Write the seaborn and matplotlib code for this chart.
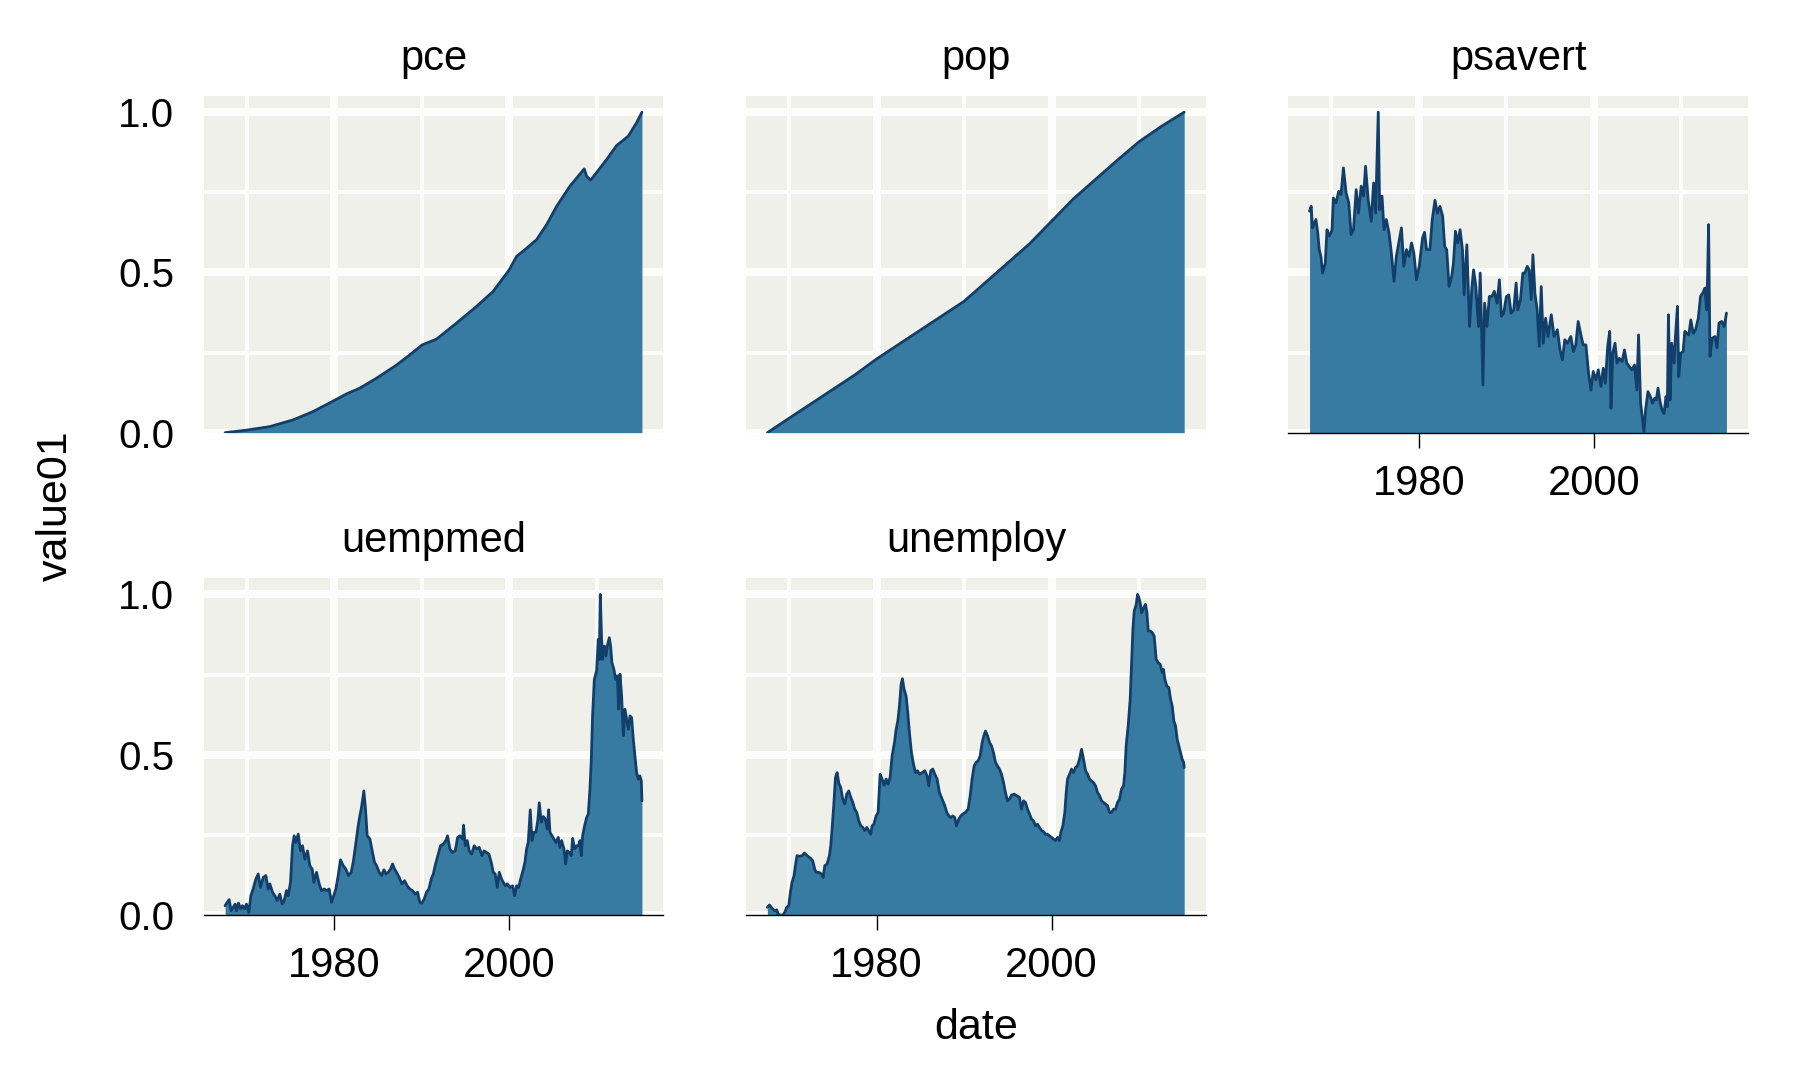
import matplotlib
matplotlib.use("Agg")
import matplotlib.pyplot as plt
import pandas as pd
import seaborn as sns
from matplotlib.ticker import FixedLocator

variables = ["pce", "pop", "psavert", "uempmed", "unemploy"]

pce_date = [1967.52, 1970.0, 1972.63, 1975.30, 1977.58, 1980.10, 1981.39, 1982.91, 1984.82,
            1987.10, 1988.63, 1990.04, 1991.68, 1993.96, 1996.25, 1998.15, 1999.98, 2000.82,
            2001.77, 2003.10, 2004.25, 2005.39, 2006.91, 2008.55, 2008.82, 2009.28, 2009.77,
            2011.10, 2012.25, 2013.58, 2014.53, 2015.14]
pce_value01 = [0.0, 0.008, 0.019, 0.040, 0.066, 0.102, 0.121, 0.139, 0.170,
               0.211, 0.243, 0.274, 0.292, 0.342, 0.394, 0.441, 0.508, 0.550,
               0.571, 0.602, 0.649, 0.706, 0.769, 0.823, 0.800, 0.788, 0.805,
               0.852, 0.896, 0.925, 0.967, 1.0]

pop_date = [1967.52, 1970.0, 1972.5, 1975.0, 1977.5, 1980.0, 1982.5, 1985.0, 1987.5, 1990.0,
            1992.5, 1995.0, 1997.5, 2000.0, 2002.5, 2005.0, 2007.5, 2010.0, 2012.5, 2015.14]
pop_value01 = [0.0, 0.045, 0.09, 0.135, 0.18, 0.23, 0.275, 0.32, 0.365, 0.41,
               0.47, 0.53, 0.59, 0.66, 0.73, 0.79, 0.85, 0.908, 0.955, 1.0]

psavert_date = [
    1967.51, 1967.70, 1967.85, 1968.24, 1968.43, 1968.62, 1968.81, 1969.00, 1969.31, 1969.50,
    1969.77, 1970.08, 1970.23, 1970.54, 1970.84, 1971.11, 1971.38, 1971.69, 1971.99, 1972.26,
    1972.53, 1972.84, 1973.10, 1973.41, 1973.68, 1973.91, 1974.21, 1974.56, 1974.83, 1975.06,
    1975.36, 1975.52, 1975.79, 1976.02, 1976.28, 1976.59, 1976.86, 1977.16, 1977.43, 1977.70,
    1978.01, 1978.28, 1978.58, 1978.89, 1979.16, 1979.43, 1979.73, 1980.04, 1980.42, 1980.65,
    1980.88, 1981.26, 1981.53, 1981.84, 1982.11, 1982.41, 1982.72, 1982.95, 1983.18, 1983.45,
    1983.75, 1983.95, 1984.18, 1984.44, 1984.71, 1984.98, 1985.17, 1985.48, 1985.79, 1986.05,
    1986.25, 1986.51, 1986.82, 1987.01, 1987.32, 1987.51, 1987.78, 1988.05, 1988.35, 1988.62,
    1988.93, 1989.20, 1989.43, 1989.69, 1990.00, 1990.27, 1990.54, 1990.84, 1991.11, 1991.30,
    1991.61, 1991.88, 1992.11, 1992.38, 1992.61, 1992.84, 1993.03, 1993.26, 1993.52, 1993.75,
    1993.98, 1994.21, 1994.48, 1994.75, 1995.13, 1995.44, 1995.82, 1996.13, 1996.40, 1996.67,
    1996.97, 1997.36, 1997.66, 1997.93, 1998.20, 1998.51, 1998.77, 1999.08, 1999.39, 1999.66,
    1999.92, 2000.23, 2000.50, 2000.80, 2001.07, 2001.30, 2001.57, 2001.80, 2001.95, 2002.15,
    2002.41, 2002.64, 2002.91, 2003.22, 2003.49, 2003.75, 2004.06, 2004.33, 2004.64, 2004.90,
    2005.10, 2005.33, 2005.52, 2005.71, 2005.90, 2006.17, 2006.44, 2006.70, 2006.93, 2007.13,
    2007.32, 2007.55, 2007.78, 2008.01, 2008.24, 2008.39, 2008.51, 2008.70, 2008.89, 2009.16,
    2009.31, 2009.54, 2009.69, 2009.92, 2010.19, 2010.38, 2010.61, 2010.84, 2011.07, 2011.34,
    2011.61, 2011.92, 2012.18, 2012.41, 2012.68, 2012.87, 2012.99, 2013.10, 2013.26, 2013.52,
    2013.83, 2014.06, 2014.29, 2014.60, 2014.87, 2015.05, 2015.14]
psavert_value01 = [
    0.691, 0.706, 0.639, 0.665, 0.628, 0.571, 0.550, 0.498, 0.529, 0.633,
    0.613, 0.633, 0.732, 0.717, 0.753, 0.743, 0.826, 0.748, 0.717, 0.618,
    0.633, 0.758, 0.685, 0.769, 0.738, 0.831, 0.727, 0.659, 0.779, 0.685,
    1.0, 0.696, 0.738, 0.633, 0.665, 0.623, 0.560, 0.472, 0.550, 0.592,
    0.639, 0.519, 0.571, 0.550, 0.592, 0.560, 0.477, 0.519, 0.607, 0.625,
    0.571, 0.571, 0.665, 0.725, 0.685, 0.706, 0.675, 0.581, 0.571, 0.456,
    0.488, 0.529, 0.628, 0.592, 0.633, 0.571, 0.430, 0.586, 0.331, 0.451,
    0.508, 0.456, 0.331, 0.498, 0.149, 0.404, 0.331, 0.425, 0.425, 0.441,
    0.404, 0.477, 0.363, 0.373, 0.425, 0.430, 0.373, 0.383, 0.467, 0.383,
    0.415, 0.498, 0.498, 0.519, 0.508, 0.415, 0.555, 0.435, 0.383, 0.269,
    0.456, 0.279, 0.357, 0.300, 0.368, 0.300, 0.321, 0.258, 0.227, 0.290,
    0.279, 0.300, 0.253, 0.274, 0.347, 0.305, 0.274, 0.274, 0.185, 0.133,
    0.191, 0.165, 0.196, 0.144, 0.201, 0.154, 0.269, 0.316, 0.076, 0.248,
    0.279, 0.217, 0.232, 0.222, 0.258, 0.217, 0.206, 0.196, 0.211, 0.133,
    0.305, 0.092, 0.050, 0.0, 0.071, 0.128, 0.113, 0.092, 0.107, 0.102,
    0.139, 0.097, 0.071, 0.060, 0.113, 0.081, 0.368, 0.102, 0.279, 0.217,
    0.300, 0.394, 0.175, 0.248, 0.253, 0.316, 0.310, 0.305, 0.352, 0.310,
    0.321, 0.357, 0.425, 0.435, 0.451, 0.383, 0.493, 0.649, 0.238, 0.295,
    0.300, 0.264, 0.342, 0.347, 0.331, 0.357, 0.373]

uempmed_date = [
    1967.52, 1967.75, 1967.98, 1968.21, 1968.44, 1968.67, 1968.82, 1969.05, 1969.28, 1969.50,
    1969.73, 1969.96, 1970.23, 1970.46, 1970.72, 1971.03, 1971.30, 1971.56, 1971.87, 1972.17,
    1972.44, 1972.63, 1972.93, 1973.20, 1973.47, 1973.77, 1974.04, 1974.27, 1974.53, 1974.72,
    1974.99, 1975.22, 1975.41, 1975.60, 1975.87, 1976.13, 1976.36, 1976.63, 1976.93, 1977.20,
    1977.47, 1977.66, 1977.96, 1978.27, 1978.53, 1978.84, 1979.10, 1979.41, 1979.68, 1979.87,
    1980.17, 1980.44, 1980.70, 1981.01, 1981.31, 1981.62, 1981.92, 1982.15, 1982.42, 1982.72,
    1982.91, 1983.10, 1983.37, 1983.56, 1983.75, 1984.06, 1984.32, 1984.59, 1984.82, 1985.12,
    1985.39, 1985.66, 1985.89, 1986.15, 1986.42, 1986.65, 1986.88, 1987.10, 1987.41, 1987.71,
    1988.02, 1988.32, 1988.63, 1988.93, 1989.24, 1989.50, 1989.77, 1990.00, 1990.27, 1990.53,
    1990.80, 1991.07, 1991.30, 1991.56, 1991.87, 1992.13, 1992.44, 1992.74, 1992.93, 1993.20,
    1993.50, 1993.81, 1994.08, 1994.34, 1994.65, 1994.76, 1994.95, 1995.18, 1995.41, 1995.68,
    1995.98, 1996.25, 1996.55, 1996.86, 1997.09, 1997.39, 1997.66, 1997.92, 1998.15, 1998.38,
    1998.61, 1998.84, 1999.10, 1999.30, 1999.52, 1999.75, 2000.06, 2000.36, 2000.59, 2000.82,
    2001.05, 2001.28, 2001.50, 2001.77, 2001.96, 2002.15, 2002.38, 2002.57, 2002.80, 2003.03,
    2003.26, 2003.41, 2003.64, 2003.87, 2004.10, 2004.32, 2004.48, 2004.63, 2004.86, 2005.09,
    2005.31, 2005.58, 2005.77, 2005.96, 2006.23, 2006.42, 2006.61, 2006.84, 2007.07, 2007.22,
    2007.45, 2007.68, 2007.90, 2008.06, 2008.21, 2008.36, 2008.59, 2008.82, 2009.01, 2009.20,
    2009.35, 2009.50, 2009.70, 2009.96, 2010.15, 2010.27, 2010.38, 2010.53, 2010.65, 2010.84,
    2011.03, 2011.18, 2011.41, 2011.56, 2011.71, 2011.94, 2012.13, 2012.32, 2012.48, 2012.63,
    2012.82, 2013.01, 2013.20, 2013.39, 2013.58, 2013.77, 2013.96, 2014.15, 2014.34, 2014.53,
    2014.72, 2014.91, 2015.07, 2015.14]
uempmed_value01 = [
    0.029, 0.039, 0.048, 0.013, 0.024, 0.034, 0.013, 0.037, 0.019, 0.029,
    0.019, 0.034, 0.008, 0.060, 0.081, 0.112, 0.128, 0.086, 0.117, 0.123,
    0.081, 0.097, 0.071, 0.060, 0.045, 0.065, 0.034, 0.045, 0.076, 0.060,
    0.102, 0.216, 0.247, 0.226, 0.252, 0.200, 0.216, 0.174, 0.200, 0.154,
    0.143, 0.102, 0.133, 0.097, 0.076, 0.081, 0.076, 0.081, 0.039, 0.055,
    0.081, 0.123, 0.172, 0.154, 0.143, 0.123, 0.133, 0.164, 0.216, 0.278,
    0.309, 0.335, 0.387, 0.330, 0.247, 0.237, 0.200, 0.164, 0.154, 0.133,
    0.123, 0.141, 0.128, 0.133, 0.143, 0.159, 0.143, 0.133, 0.117, 0.097,
    0.107, 0.091, 0.081, 0.076, 0.065, 0.071, 0.039, 0.037, 0.050, 0.071,
    0.081, 0.112, 0.128, 0.159, 0.190, 0.216, 0.221, 0.232, 0.247, 0.206,
    0.195, 0.200, 0.242, 0.247, 0.237, 0.280, 0.216, 0.232, 0.200, 0.190,
    0.216, 0.206, 0.211, 0.185, 0.200, 0.195, 0.190, 0.164, 0.133, 0.128,
    0.086, 0.133, 0.112, 0.102, 0.091, 0.097, 0.086, 0.091, 0.060, 0.091,
    0.086, 0.112, 0.133, 0.164, 0.206, 0.226, 0.328, 0.232, 0.258, 0.258,
    0.299, 0.350, 0.289, 0.307, 0.299, 0.268, 0.328, 0.258, 0.247, 0.237,
    0.226, 0.242, 0.211, 0.232, 0.206, 0.159, 0.200, 0.195, 0.185, 0.239,
    0.206, 0.216, 0.216, 0.232, 0.185, 0.247, 0.278, 0.304, 0.315, 0.393,
    0.481, 0.621, 0.735, 0.761, 0.860, 0.797, 1.0, 0.860, 0.797, 0.839,
    0.808, 0.839, 0.865, 0.839, 0.787, 0.766, 0.735, 0.746, 0.642, 0.751,
    0.683, 0.559, 0.642, 0.611, 0.579, 0.621, 0.616, 0.548, 0.496, 0.444,
    0.424, 0.434, 0.418, 0.356]

unemploy_date = [
    1967.52, 1967.75, 1968.06, 1968.36, 1968.59, 1968.74, 1968.97, 1969.28, 1969.50, 1969.73,
    1969.96, 1970.15, 1970.34, 1970.57, 1970.72, 1970.91, 1971.18, 1971.49, 1971.75, 1972.06,
    1972.44, 1972.70, 1972.93, 1973.09, 1973.39, 1973.70, 1973.89, 1974.08, 1974.34, 1974.61,
    1974.76, 1974.91, 1975.10, 1975.30, 1975.49, 1975.68, 1975.90, 1976.13, 1976.36, 1976.59,
    1976.82, 1977.05, 1977.28, 1977.50, 1977.73, 1977.96, 1978.19, 1978.42, 1978.65, 1978.88,
    1979.10, 1979.33, 1979.49, 1979.68, 1979.94, 1980.17, 1980.40, 1980.63, 1980.86, 1981.09,
    1981.31, 1981.54, 1981.77, 1982.04, 1982.23, 1982.42, 1982.61, 1982.80, 1982.95, 1983.14,
    1983.37, 1983.56, 1983.75, 1983.98, 1984.17, 1984.44, 1984.67, 1984.90, 1985.20, 1985.50,
    1985.77, 1985.96, 1986.19, 1986.42, 1986.65, 1986.91, 1987.18, 1987.49, 1987.79, 1988.02,
    1988.25, 1988.48, 1988.70, 1988.93, 1989.12, 1989.39, 1989.62, 1989.85, 1990.15, 1990.46,
    1990.69, 1990.91, 1991.14, 1991.37, 1991.60, 1991.83, 1992.06, 1992.25, 1992.44, 1992.67,
    1992.90, 1993.12, 1993.35, 1993.58, 1993.81, 1994.04, 1994.27, 1994.50, 1994.72, 1994.95,
    1995.18, 1995.41, 1995.71, 1996.02, 1996.32, 1996.55, 1996.78, 1997.01, 1997.24, 1997.47,
    1997.70, 1997.92, 1998.15, 1998.38, 1998.61, 1998.84, 1999.07, 1999.30, 1999.52, 1999.75,
    1999.98, 2000.21, 2000.44, 2000.67, 2000.90, 2001.05, 2001.28, 2001.50, 2001.66, 2001.81,
    2002.04, 2002.27, 2002.50, 2002.72, 2002.95, 2003.18, 2003.41, 2003.64, 2003.87, 2004.10,
    2004.32, 2004.55, 2004.78, 2005.01, 2005.24, 2005.47, 2005.70, 2005.92, 2006.15, 2006.38,
    2006.61, 2006.84, 2007.07, 2007.30, 2007.52, 2007.75, 2007.98, 2008.21, 2008.36, 2008.51,
    2008.74, 2008.97, 2009.12, 2009.28, 2009.43, 2009.66, 2009.81, 2009.96, 2010.11, 2010.27,
    2010.50, 2010.72, 2010.88, 2011.03, 2011.26, 2011.49, 2011.71, 2011.94, 2012.17, 2012.40,
    2012.63, 2012.78, 2012.93, 2013.16, 2013.39, 2013.58, 2013.77, 2013.96, 2014.15, 2014.34,
    2014.53, 2014.72, 2014.91, 2015.07, 2015.14]
unemploy_value01 = [
    0.024, 0.031, 0.021, 0.013, 0.016, 0.003, 0.0, 0.0, 0.008, 0.024,
    0.029, 0.071, 0.102, 0.123, 0.154, 0.185, 0.183, 0.185, 0.193, 0.185,
    0.177, 0.169, 0.143, 0.133, 0.133, 0.128, 0.117, 0.154, 0.159, 0.185,
    0.216, 0.268, 0.341, 0.429, 0.444, 0.411, 0.398, 0.361, 0.346, 0.377,
    0.387, 0.367, 0.351, 0.330, 0.320, 0.294, 0.278, 0.273, 0.263, 0.273,
    0.263, 0.252, 0.278, 0.283, 0.309, 0.320, 0.439, 0.424, 0.405, 0.424,
    0.408, 0.429, 0.496, 0.538, 0.579, 0.605, 0.652, 0.720, 0.737, 0.704,
    0.683, 0.631, 0.569, 0.507, 0.476, 0.444, 0.450, 0.439, 0.444, 0.450,
    0.434, 0.403, 0.450, 0.455, 0.439, 0.424, 0.382, 0.361, 0.341, 0.320,
    0.309, 0.304, 0.309, 0.304, 0.278, 0.299, 0.309, 0.315, 0.320, 0.330,
    0.372, 0.424, 0.465, 0.476, 0.481, 0.496, 0.538, 0.559, 0.574, 0.559,
    0.538, 0.528, 0.507, 0.476, 0.465, 0.455, 0.439, 0.413, 0.382, 0.356,
    0.361, 0.374, 0.377, 0.372, 0.367, 0.330, 0.356, 0.351, 0.330, 0.315,
    0.299, 0.294, 0.278, 0.283, 0.273, 0.263, 0.260, 0.252, 0.252, 0.247,
    0.242, 0.237, 0.232, 0.242, 0.232, 0.258, 0.278, 0.320, 0.382, 0.424,
    0.439, 0.455, 0.444, 0.460, 0.465, 0.486, 0.517, 0.486, 0.450, 0.439,
    0.424, 0.418, 0.413, 0.403, 0.382, 0.372, 0.356, 0.351, 0.346, 0.341,
    0.320, 0.320, 0.330, 0.330, 0.351, 0.361, 0.393, 0.403, 0.444, 0.528,
    0.590, 0.673, 0.777, 0.891, 0.948, 0.969, 1.0, 0.990, 0.974, 0.943,
    0.958, 0.969, 0.943, 0.886, 0.886, 0.881, 0.870, 0.798, 0.787, 0.782,
    0.756, 0.766, 0.735, 0.714, 0.709, 0.673, 0.652, 0.605, 0.590, 0.548,
    0.528, 0.507, 0.486, 0.476, 0.460]

x_major = [1980, 2000]
x_major_labels = ["1980", "2000"]
x_minor = [1970, 1990, 2010]
y_major = [0.0, 0.5, 1.0]
y_major_labels = ["0.0", "0.5", "1.0"]
y_minor = [0.25, 0.75]

FILL = "#377BA3"
LINE = "#123F69"
PANEL_BG = "#F0F0EB"
GRID = "#FCFCFA"

series = {
    "pce": (pce_date, pce_value01),
    "pop": (pop_date, pop_value01),
    "psavert": (psavert_date, psavert_value01),
    "uempmed": (uempmed_date, uempmed_value01),
    "unemploy": (unemploy_date, unemploy_value01),
}
frames = [pd.DataFrame({"variable": k, "date": d, "value01": v}) for k, (d, v) in series.items()]
df = pd.concat(frames, ignore_index=True)

sns.set_theme(style="white")
plt.rcParams["font.family"] = ["Liberation Sans", "DejaVu Sans"]
plt.rcParams["text.color"] = "black"
plt.rcParams["xtick.color"] = "black"
plt.rcParams["ytick.color"] = "black"

g = sns.FacetGrid(df, col="variable", col_order=variables, col_wrap=3,
                  sharex=True, sharey=True, height=3.6, aspect=1.37, despine=False)


def area(data, color=None, **kws):
    ax = plt.gca()
    ax.fill_between(data["date"], data["value01"], 0, color=FILL, linewidth=0, zorder=2)
    sns.lineplot(data=data, x="date", y="value01", color=LINE, linewidth=2.0,
                 estimator=None, sort=False, ax=ax, zorder=3)


g.map_dataframe(area)
g.set_titles(template="{col_name}", size=30, pad=19)
g.set_axis_labels("", "")
g.set(xlim=(1965.1, 2017.6), ylim=(0, 1.05))

bottom_axes = {"psavert", "uempmed", "unemploy"}
left_axes = {"pce", "uempmed"}

for name, ax in g.axes_dict.items():
    ax.set_facecolor(PANEL_BG)
    ax.set_axisbelow(True)
    ax.xaxis.set_major_locator(FixedLocator(x_major))
    ax.xaxis.set_minor_locator(FixedLocator(x_minor))
    ax.yaxis.set_major_locator(FixedLocator(y_major))
    ax.yaxis.set_minor_locator(FixedLocator(y_minor))
    ax.grid(which="major", color=GRID, linewidth=5.8, zorder=0)
    ax.grid(which="minor", color=GRID, linewidth=2.9, zorder=0)
    ax.tick_params(which="minor", length=0)
    for s in ax.spines.values():
        s.set_visible(False)
    if name in bottom_axes:
        ax.spines["bottom"].set_visible(True)
        ax.spines["bottom"].set_color("black")
        ax.spines["bottom"].set_linewidth(1.0)
        ax.tick_params(axis="x", which="major", length=11, width=1.0, pad=11.5,
                       labelsize=30, labelbottom=True, bottom=True)
        ax.set_xticks(x_major)
        ax.set_xticklabels(x_major_labels)
    else:
        ax.tick_params(axis="x", which="major", length=0, labelbottom=False)
    if name in left_axes:
        ax.tick_params(axis="y", which="major", length=0, pad=21.5, labelsize=29,
                       labelleft=True)
        ax.set_yticks(y_major)
        ax.set_yticklabels(y_major_labels)
    else:
        ax.tick_params(axis="y", which="major", length=0, labelleft=False)

fig = g.figure
fig.set_size_inches(18, 10.8)
fig.subplots_adjust(left=0.1133, right=0.9711, bottom=0.1528, top=0.911,
                    wspace=0.18, hspace=0.433)
fig.text(0.0311, 0.532, "value01", rotation=90, ha="center", va="center", fontsize=31)
fig.text(0.5422, 0.0481, "date", ha="center", va="center", fontsize=31)

fig.savefig("out.png", dpi=100, facecolor="white")
